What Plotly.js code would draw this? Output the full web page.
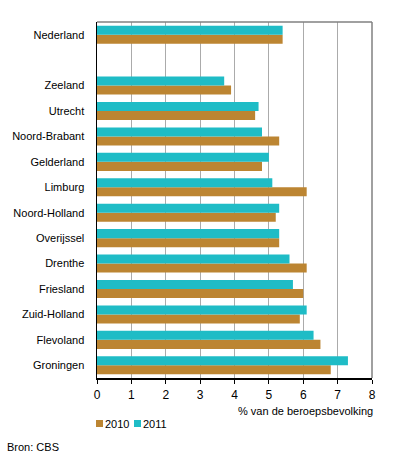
<!DOCTYPE html>
<html>
<head>
<meta charset="utf-8">
<script src="https://cdn.plot.ly/plotly-3.0.1.min.js"></script>
<style>
html,body{margin:0;padding:0;background:#fff;}
#chart{width:396px;height:462px;}
</style>
</head>
<body>
<div id="chart"></div>
<script>
// Categories, top to bottom (" " is the empty separator row)
var regions = ["Nederland", " ", "Zeeland", "Utrecht", "Noord-Brabant", "Gelderland", "Limburg",
  "Noord-Holland", "Overijssel", "Drenthe", "Friesland", "Zuid-Holland", "Flevoland", "Groningen"];
var values2010 = [5.4, null, 3.9, 4.6, 5.3, 4.8, 6.1, 5.2, 5.3, 6.1, 6.0, 5.9, 6.5, 6.8];
var values2011 = [5.4, null, 3.7, 4.7, 4.8, 5.0, 5.1, 5.3, 5.3, 5.6, 5.7, 6.1, 6.3, 7.3];
var seriesNames = ["2010", "2011"];
var seriesColors = ["#BC8532", "#1FBCC6"];
var xTicks = [0, 1, 2, 3, 4, 5, 6, 7, 8];

var fontFam = "Liberation Sans, Arial, sans-serif";
var traces = [
  {type: "bar", orientation: "h", name: seriesNames[0], y: regions, x: values2010,
   marker: {color: seriesColors[0]}, hoverinfo: "x+y"},
  {type: "bar", orientation: "h", name: seriesNames[1], y: regions, x: values2011,
   marker: {color: seriesColors[1]}, hoverinfo: "x+y"}
];

// compact legend (squares + labels) below the plot, left aligned with the axis
var legendShapes = [], legendAnnots = [];
seriesNames.forEach(function (n, i) {
  var off = i * 38;
  legendShapes.push({type: "rect", xref: "paper", yref: "paper",
    xsizemode: "pixel", ysizemode: "pixel", xanchor: 0, yanchor: 0,
    x0: -1 + off, x1: 6 + off, y0: -49, y1: -42,
    fillcolor: seriesColors[i], line: {width: 0}});
  legendAnnots.push({text: n, xref: "paper", yref: "paper", x: 0, y: 0,
    xanchor: "left", yanchor: "middle", xshift: 6 + off, yshift: -46, showarrow: false,
    font: {family: fontFam, size: 11, color: "#000"}});
});

var layout = {
  width: 396, height: 462,
  margin: {l: 97, r: 24, t: 22, b: 84},
  paper_bgcolor: "#fff", plot_bgcolor: "#fff",
  font: {family: fontFam, size: 11, color: "#000"},
  barmode: "group", bargap: 0.29, bargroupgap: 0,
  showlegend: false,
  xaxis: {range: [0, 8], tickvals: xTicks, ticktext: xTicks.map(String),
          showgrid: true, gridcolor: "#ababab", gridwidth: 1,
          showline: true, linecolor: "#000", linewidth: 1.5,
          ticks: "outside", ticklen: 4, tickcolor: "#000", tickwidth: 1,
          ticklabelstandoff: 1,
          zeroline: false, fixedrange: true,
          tickfont: {family: fontFam, size: 12, color: "#000"}},
  yaxis: {type: "category", categoryorder: "array", categoryarray: regions.slice().reverse(),
          showgrid: false, showline: true, linecolor: "#000", linewidth: 1.5,
          ticks: "", ticklabelstandoff: 9, zeroline: false, fixedrange: true,
          tickfont: {family: fontFam, size: 11, color: "#000"}},
  shapes: [
    {type: "line", xref: "paper", yref: "paper", x0: 0, x1: 1, y0: 1, y1: 1,
     line: {color: "#808080", width: 1.5}},
    {type: "line", xref: "paper", yref: "paper", x0: 1, x1: 1, y0: 0, y1: 1,
     line: {color: "#808080", width: 1.5}}
  ].concat(legendShapes),
  annotations: [
    {text: "% van de beroepsbevolking", xref: "paper", yref: "paper", x: 1.01, y: 0,
     xanchor: "right", yanchor: "middle", yshift: -33, showarrow: false,
     font: {family: fontFam, size: 11, color: "#000"}},
    {text: "Bron: CBS", xref: "paper", yref: "paper", x: 0, y: 0,
     xanchor: "left", yanchor: "middle", xshift: -92, yshift: -69, showarrow: false,
     font: {family: fontFam, size: 11, color: "#000"}}
  ].concat(legendAnnots)
};

Plotly.newPlot("chart", traces, layout, {displayModeBar: false, staticPlot: true});
</script>
</body>
</html>
